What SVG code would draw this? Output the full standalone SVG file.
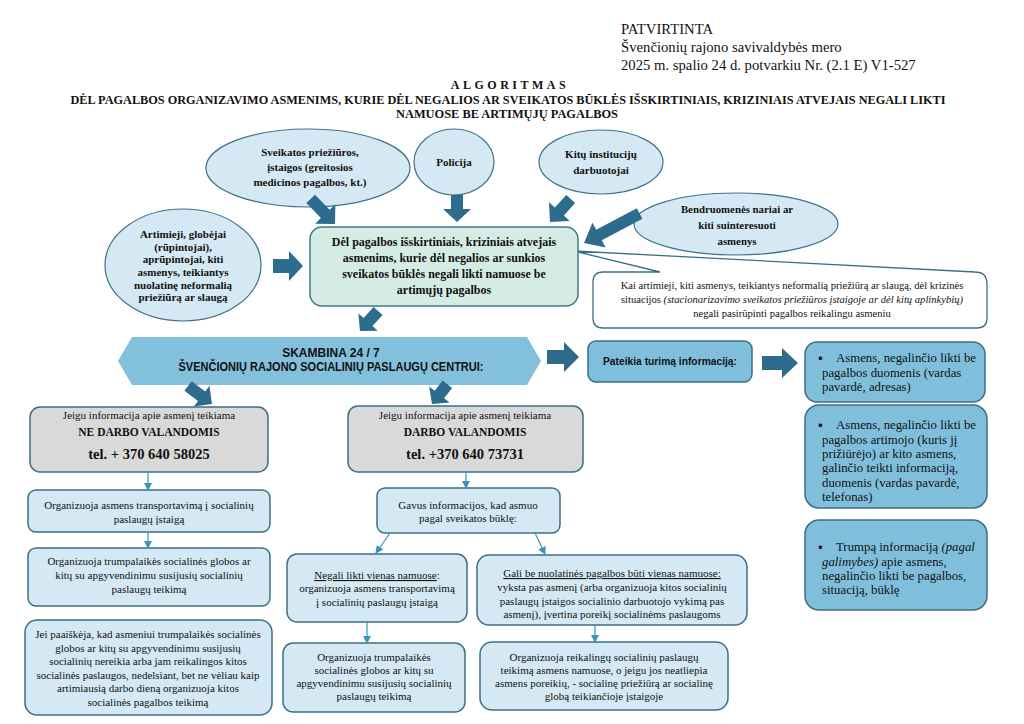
<svg xmlns="http://www.w3.org/2000/svg" width="1024" height="724" viewBox="0 0 1024 724">
<style>
.s{font-family:"Liberation Serif","Times New Roman",serif;fill:#111}
.b{font-weight:bold}
.c{text-anchor:middle}
.ell{fill:#d4e9f3;stroke:#41728a;stroke-width:1.2}
.box{fill:#d4e9f3;stroke:#3c6e84;stroke-width:1.5}
.gray{fill:#d9d9d9;stroke:#3c6e84;stroke-width:1.5}
.dark{fill:#80bfdc;stroke:#3c6e84;stroke-width:1.5}
.fat{fill:#2d6c8c}
.thin{stroke:#3d93b8;stroke-width:1.2;fill:none;marker-end:url(#ah)}
.sans{font-family:"Liberation Sans",Arial,sans-serif;font-weight:bold;fill:#111}
</style>
<defs>
<marker id="ah" markerWidth="8" markerHeight="8" refX="7" refY="4" orient="auto" markerUnits="userSpaceOnUse">
<path d="M0,0 L8,4 L0,8 z" fill="#3d93b8"/>
</marker>
</defs>
<rect width="1024" height="724" fill="#fff"/>

<g id="header" class="s" font-size="14.7">
<text x="621" y="34">PATVIRTINTA</text>
<text x="621" y="52">Švenčionių rajono savivaldybės mero</text>
<text x="621" y="70">2025 m. spalio 24 d. potvarkiu Nr. (2.1 E) V1-527</text>
</g>

<g id="title" class="s b c" font-size="12">
<text x="510" y="89" letter-spacing="3.5">ALGORITMAS</text>
<text x="508" y="104" textLength="875" lengthAdjust="spacingAndGlyphs">DĖL PAGALBOS ORGANIZAVIMO ASMENIMS, KURIE DĖL NEGALIOS AR SVEIKATOS BŪKLĖS IŠSKIRTINIAIS, KRIZINIAIS ATVEJAIS NEGALI LIKTI</text>
<text x="507" y="118" textLength="222" lengthAdjust="spacingAndGlyphs">NAMUOSE BE ARTIMŲJŲ PAGALBOS</text>
</g>

<g id="callout">
<path d="M603,272 L660,272 L574,251 L975,272 Q987,272 987,284 L987,318 Q987,328 977,328 L603,328 Q593,328 593,318 L593,282 Q593,272 603,272 Z" fill="#fff" stroke="#3c6e84" stroke-width="1.3"/>
<text class="s c" font-size="10.6" x="792"><tspan x="792" y="289">Kai artimieji, kiti asmenys, teikiantys neformalią priežiūrą ar slaugą, dėl krizinės</tspan><tspan x="792" y="303">situacijos <tspan font-style="italic">(stacionarizavimo sveikatos priežiūros įstaigoje ar dėl kitų aplinkybių)</tspan></tspan><tspan x="792" y="317">negali pasirūpinti pagalbos reikalingu asmeniu</tspan></text>
</g>

<g id="n-sveikatos">
<ellipse class="ell" cx="308" cy="168" rx="102" ry="39"/>
<text class="s b c" font-size="11"><tspan x="310" y="156">Sveikatos priežiūros,</tspan><tspan x="310" y="171">įstaigos (greitosios</tspan><tspan x="310" y="186">medicinos pagalbos, kt.)</tspan></text>
</g>
<g id="n-policija">
<ellipse class="ell" cx="454" cy="162" rx="40" ry="33"/>
<text class="s b c" font-size="11" x="454" y="166">Policija</text>
</g>
<g id="n-kitu">
<ellipse class="ell" cx="601" cy="162" rx="62" ry="32"/>
<text class="s b c" font-size="11"><tspan x="601" y="158">Kitų institucijų</tspan><tspan x="601" y="174">darbuotojai</tspan></text>
</g>
<g id="n-bendruomenes">
<ellipse class="ell" cx="736" cy="224" rx="102" ry="31"/>
<text class="s b c" font-size="10.8"><tspan x="737" y="213">Bendruomenės nariai ar</tspan><tspan x="737" y="229">kiti suinteresuoti</tspan><tspan x="737" y="245">asmenys</tspan></text>
</g>
<g id="n-artimieji">
<ellipse class="ell" cx="183" cy="265" rx="78" ry="56"/>
<text class="s b c" font-size="11"><tspan x="183" y="238">Artimieji, globėjai</tspan><tspan x="183" y="251">(rūpintojai),</tspan><tspan x="183" y="263">aprūpintojai, kiti</tspan><tspan x="183" y="276">asmenys, teikiantys</tspan><tspan x="183" y="289">nuolatinę neformalią</tspan><tspan x="183" y="301">priežiūrą ar slaugą</tspan></text>
</g>

<g id="n-central">
<rect x="310" y="227" width="268" height="79" rx="12" fill="#d5ece5" stroke="#3f7a82" stroke-width="1.5"/>
<text class="s b c" font-size="12"><tspan x="444" y="246">Dėl pagalbos išskirtiniais, kriziniais atvejais</tspan><tspan x="444" y="262">asmenims, kurie dėl negalios ar sunkios</tspan><tspan x="444" y="278">sveikatos būklės negali likti namuose be</tspan><tspan x="444" y="294">artimųjų pagalbos</tspan></text>
</g>

<g id="n-banner">
<polygon points="118,361 132,337 527,337 541,361 527,385 132,385" fill="#82c0dc"/>
<text class="sans c" font-size="12"><tspan x="331" y="357">SKAMBINA 24 / 7</tspan><tspan x="331" y="371" textLength="305" lengthAdjust="spacingAndGlyphs">ŠVENČIONIŲ RAJONO SOCIALINIŲ PASLAUGŲ CENTRUI:</tspan></text>
</g>

<g id="n-pateikia">
<rect class="dark" x="588" y="341" width="164" height="41" rx="8"/>
<text class="sans c" font-size="10.5" x="670" y="365" textLength="134" lengthAdjust="spacingAndGlyphs">Pateikia turimą informaciją:</text>
</g>

<g id="n-info1">
<rect class="dark" x="805" y="342" width="180" height="60" rx="12"/>
<text class="s" font-size="12.8"><tspan x="818" y="362">▪</tspan><tspan x="836" y="362">Asmens, negalinčio likti be</tspan><tspan x="822" y="377">pagalbos duomenis (vardas</tspan><tspan x="822" y="391">pavardė, adresas)</tspan></text>
</g>
<g id="n-info2">
<rect class="dark" x="805" y="405" width="182" height="103" rx="14"/>
<text class="s" font-size="12.8"><tspan x="818" y="429">▪</tspan><tspan x="836" y="429">Asmens, negalinčio likti be</tspan><tspan x="822" y="444">pagalbos artimojo (kuris jį</tspan><tspan x="822" y="458">prižiūrėjo) ar kito asmens,</tspan><tspan x="822" y="472">galinčio teikti informaciją,</tspan><tspan x="822" y="487">duomenis (vardas pavardė,</tspan><tspan x="822" y="501">telefonas)</tspan></text>
</g>
<g id="n-info3">
<rect class="dark" x="805" y="520" width="182" height="90" rx="14"/>
<text class="s" font-size="12.8"><tspan x="818" y="551">▪</tspan><tspan x="836" y="551">Trumpą informaciją <tspan font-style="italic">(pagal</tspan></tspan><tspan x="822" y="566" font-style="italic">galimybes)</tspan><tspan> apie asmens,</tspan><tspan x="822" y="580">negalinčio likti be pagalbos,</tspan><tspan x="822" y="594">situaciją, būklę</tspan></text>
</g>

<g id="n-ne-darbo">
<rect class="gray" x="30" y="407" width="238" height="65" rx="10"/>
<text class="s c"><tspan x="149" y="419" font-size="11">Jeigu informacija apie asmenį teikiama</tspan><tspan x="149" y="436" font-size="11.5" font-weight="bold">NE DARBO VALANDOMIS</tspan><tspan x="149" y="459" font-size="14.5" font-weight="bold">tel. + 370 640 58025</tspan></text>
</g>
<g id="n-transport1">
<rect class="box" x="28" y="490" width="242" height="42" rx="8"/>
<text class="s c" font-size="11"><tspan x="149" y="509">Organizuoja asmens transportavimą į socialinių</tspan><tspan x="149" y="523">paslaugų įstaigą</tspan></text>
</g>
<g id="n-trump1">
<rect class="box" x="28" y="548" width="242" height="58" rx="8"/>
<text class="s c" font-size="11"><tspan x="149" y="565">Organizuoja trumpalaikės socialinės globos ar</tspan><tspan x="149" y="579">kitų su apgyvendinimu susijusių socialinių</tspan><tspan x="149" y="593">paslaugų teikimą</tspan></text>
</g>
<g id="n-jei">
<rect class="box" x="25" y="620" width="247" height="95" rx="12"/>
<text class="s c" font-size="11"><tspan x="148" y="638">Jei paaiškėja, kad asmeniui trumpalaikės socialinės</tspan><tspan x="148" y="652">globos ar kitų su apgyvendinimu susijusių</tspan><tspan x="148" y="665">socialinių nereikia arba jam reikalingos kitos</tspan><tspan x="148" y="679">socialinės paslaugos, nedelsiant, bet ne vėliau kaip</tspan><tspan x="148" y="692">artimiausią darbo dieną organizuoja kitos</tspan><tspan x="148" y="706">socialinės pagalbos teikimą</tspan></text>
</g>

<g id="n-darbo">
<rect class="gray" x="348" y="406" width="235" height="66" rx="10"/>
<text class="s c"><tspan x="465" y="419" font-size="11">Jeigu informacija apie asmenį teikiama</tspan><tspan x="465" y="436" font-size="11.5" font-weight="bold">DARBO VALANDOMIS</tspan><tspan x="465" y="459" font-size="14.5" font-weight="bold">tel. +370 640 73731</tspan></text>
</g>
<g id="n-gavus">
<rect class="box" x="377" y="488" width="183" height="45" rx="8"/>
<text class="s c" font-size="11"><tspan x="468" y="509">Gavus informacijos, kad asmuo</tspan><tspan x="468" y="522">pagal sveikatos būklę:</tspan></text>
</g>
<g id="n-negali">
<rect class="box" x="287" y="554" width="180" height="68" rx="10"/>
<text class="s c" font-size="11"><tspan x="377" y="579"><tspan text-decoration="underline">Negali likti vienas namuose</tspan>:</tspan><tspan x="377" y="592">organizuoja asmens transportavimą</tspan><tspan x="377" y="606">į socialinių paslaugų įstaigą</tspan></text>
</g>
<g id="n-trump2">
<rect class="box" x="283" y="643" width="182" height="69" rx="10"/>
<text class="s c" font-size="11"><tspan x="374" y="661">Organizuoja trumpalaikės</tspan><tspan x="374" y="674">socialinės globos ar kitų su</tspan><tspan x="374" y="687">apgyvendinimu susijusių socialinių</tspan><tspan x="374" y="700">paslaugų teikimą</tspan></text>
</g>
<g id="n-gali">
<rect class="box" x="477" y="555" width="270" height="70" rx="12"/>
<text class="s c" font-size="11"><tspan x="612" y="577" text-decoration="underline">Gali be nuolatinės pagalbos būti vienas namuose:</tspan><tspan x="612" y="591">vyksta pas asmenį (arba organizuoja kitos socialinių</tspan><tspan x="612" y="605">paslaugų įstaigos socialinio darbuotojo vykimą pas</tspan><tspan x="612" y="618">asmenį), įvertina poreikį socialinėms paslaugoms</tspan></text>
</g>
<g id="n-reikalingu">
<rect class="box" x="480" y="642" width="248" height="68" rx="12"/>
<text class="s c" font-size="11"><tspan x="604" y="661">Organizuoja reikalingų socialinių  paslaugų</tspan><tspan x="604" y="674">teikimą asmens namuose, o jeigu jos neatliepia</tspan><tspan x="604" y="687">asmens poreikių, -  socialinę priežiūrą ar socialinę</tspan><tspan x="604" y="700">globą teikiančioje įstaigoje</tspan></text>
</g>

<g id="connectors">
<path class="fat" d="M-35,-6 L-14,-6 L-14,-14 L0,0 L-14,14 L-14,6 L-35,6 Z" transform="translate(335,224) rotate(46)"/>
<path class="fat" d="M-27,-6 L-13,-6 L-13,-14 L0,0 L-13,14 L-13,6 L-27,6 Z" transform="translate(457,222) rotate(90)"/>
<path class="fat" d="M-31,-6 L-14,-6 L-14,-14 L0,0 L-14,14 L-14,6 L-31,6 Z" transform="translate(550,222) rotate(132)"/>
<path class="fat" d="M-63,-6 L-17,-6 L-17,-14 L0,0 L-17,14 L-17,6 L-63,6 Z" transform="translate(584,243) rotate(152)"/>
<path class="fat" d="M-30,-7 L-14,-7 L-14,-15 L0,0 L-14,15 L-14,7 L-30,7 Z" transform="translate(303,266)"/>
<path class="fat" d="M-27,-6 L-12,-6 L-12,-13 L0,0 L-12,13 L-12,6 L-27,6 Z" transform="translate(360,331) rotate(132)"/>
<path class="fat" d="M-30,-6 L-13,-6 L-13,-13 L0,0 L-13,13 L-13,6 L-30,6 Z" transform="translate(212,404) rotate(37)"/>
<path class="fat" d="M-25,-6 L-12,-6 L-12,-13 L0,0 L-12,13 L-12,6 L-25,6 Z" transform="translate(432,404) rotate(128)"/>
<path class="fat" d="M-32,-7 L-15,-7 L-15,-15 L0,0 L-15,15 L-15,7 L-32,7 Z" transform="translate(579,357)"/>
<path class="fat" d="M-36,-7 L-16,-7 L-16,-15 L0,0 L-16,15 L-16,7 L-36,7 Z" transform="translate(798,363)"/>
<line class="thin" x1="148" y1="472" x2="148" y2="490"/>
<line class="thin" x1="148" y1="532" x2="148" y2="548"/>
<line class="thin" x1="466" y1="472" x2="466" y2="488"/>
<line class="thin" x1="390" y1="533" x2="376" y2="553"/>
<line class="thin" x1="535" y1="533" x2="545" y2="554"/>
<line class="thin" x1="367" y1="622" x2="367" y2="643"/>
<line class="thin" x1="595" y1="625" x2="595" y2="642"/>
</g>
</svg>
